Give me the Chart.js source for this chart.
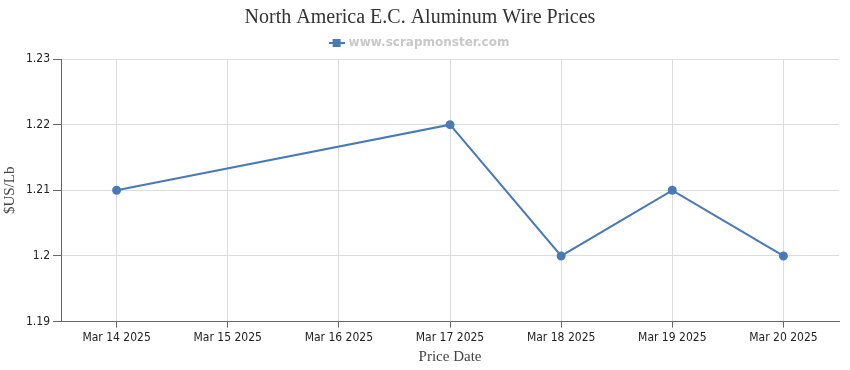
<!DOCTYPE html>
<html>
<head>
<meta charset="utf-8">
<script src="https://cdn.jsdelivr.net/npm/chart.js@4.4.1/dist/chart.umd.min.js"></script>
<style>
    html, body { margin: 0; padding: 0; background: #fff; }
    #wrap { width: 850px; height: 370px; }
</style>
</head>
<body>
<div id="wrap"><canvas id="priceChart"></canvas></div>
<script>
// data
const priceDates = ['Mar 14 2025', 'Mar 15 2025', 'Mar 16 2025', 'Mar 17 2025', 'Mar 18 2025', 'Mar 19 2025', 'Mar 20 2025'];
const prices = [1.21, null, null, 1.22, 1.20, 1.21, 1.20];
const yTicks = [1.19, 1.20, 1.21, 1.22, 1.23];

const lineColor = '#4a7ab5';
const tickFont = { family: "'DejaVu Sans Condensed', 'DejaVu Sans'", size: 12 };

// legend marker: short line with a square in the middle
function makeLegendIcon() {
    const c = document.createElement('canvas');
    c.width = 16;
    c.height = 8;
    const ctx = c.getContext('2d');
    ctx.strokeStyle = lineColor;
    ctx.lineWidth = 2;
    ctx.beginPath();
    ctx.moveTo(0, 4);
    ctx.lineTo(16, 4);
    ctx.stroke();
    ctx.fillStyle = lineColor;
    ctx.fillRect(4, 0, 8, 8);
    return c;
}

document.addEventListener('DOMContentLoaded', function() {
    const legendIcon = makeLegendIcon();
    const ctx = document.getElementById('priceChart');

    new Chart(ctx, {
        type: 'line',
        data: {
            labels: priceDates,
            datasets: [{
                label: 'www.scrapmonster.com',
                data: prices,
                borderColor: lineColor,
                backgroundColor: lineColor,
                borderWidth: 2,
                pointRadius: 3.5,
                pointHoverRadius: 5,
                tension: 0,
                spanGaps: true,
                pointStyle: 'circle'
            }]
        },
        options: {
            responsive: true,
            maintainAspectRatio: false,
            animation: false,
            layout: { padding: { left: 1, right: 11, top: 6, bottom: 4 } },
            plugins: {
                title: {
                    display: true,
                    text: 'North America E.C. Aluminum Wire Prices',
                    color: '#333',
                    font: { family: 'Liberation Serif', size: 20, weight: 'normal' },
                    padding: { top: 0, bottom: 2 }
                },
                legend: {
                    display: true,
                    labels: {
                        color: '#c8c8c8',
                        font: { family: 'DejaVu Sans', size: 12, weight: 'bold' },
                        usePointStyle: true,
                        pointStyle: legendIcon,
                        boxWidth: 16,
                        boxHeight: 8,
                        padding: 5
                    }
                },
                tooltip: { enabled: false }
            },
            scales: {
                x: {
                    offset: true,
                    grid: { color: '#dcdcdc', tickColor: '#666', tickLength: 6, offset: false },
                    border: { color: '#666', width: 1 },
                    ticks: {
                        color: '#222',
                        font: tickFont,
                        maxRotation: 0,
                        autoSkip: false,
                        padding: 3
                    },
                    title: {
                        display: true,
                        text: 'Price Date',
                        color: '#444',
                        font: { family: 'Liberation Serif', size: 15 },
                        padding: { top: 0, bottom: 0 }
                    }
                },
                y: {
                    min: yTicks[0],
                    max: yTicks[yTicks.length - 1],
                    afterBuildTicks: function(axis) {
                        axis.ticks = yTicks.map(v => ({ value: v }));
                    },
                    grid: { color: '#dcdcdc', tickColor: '#666', tickLength: 8 },
                    border: { color: '#666', width: 1 },
                    ticks: {
                        color: '#222',
                        font: tickFont,
                        padding: 3,
                        callback: function(v) { return String(Math.round(v * 100) / 100); }
                    },
                    title: {
                        display: true,
                        text: '$US/Lb',
                        color: '#444',
                        font: { family: 'Liberation Serif', size: 15 },
                        padding: { top: 0, bottom: 4 }
                    }
                }
            }
        }
    });
});
</script>
</body>
</html>
